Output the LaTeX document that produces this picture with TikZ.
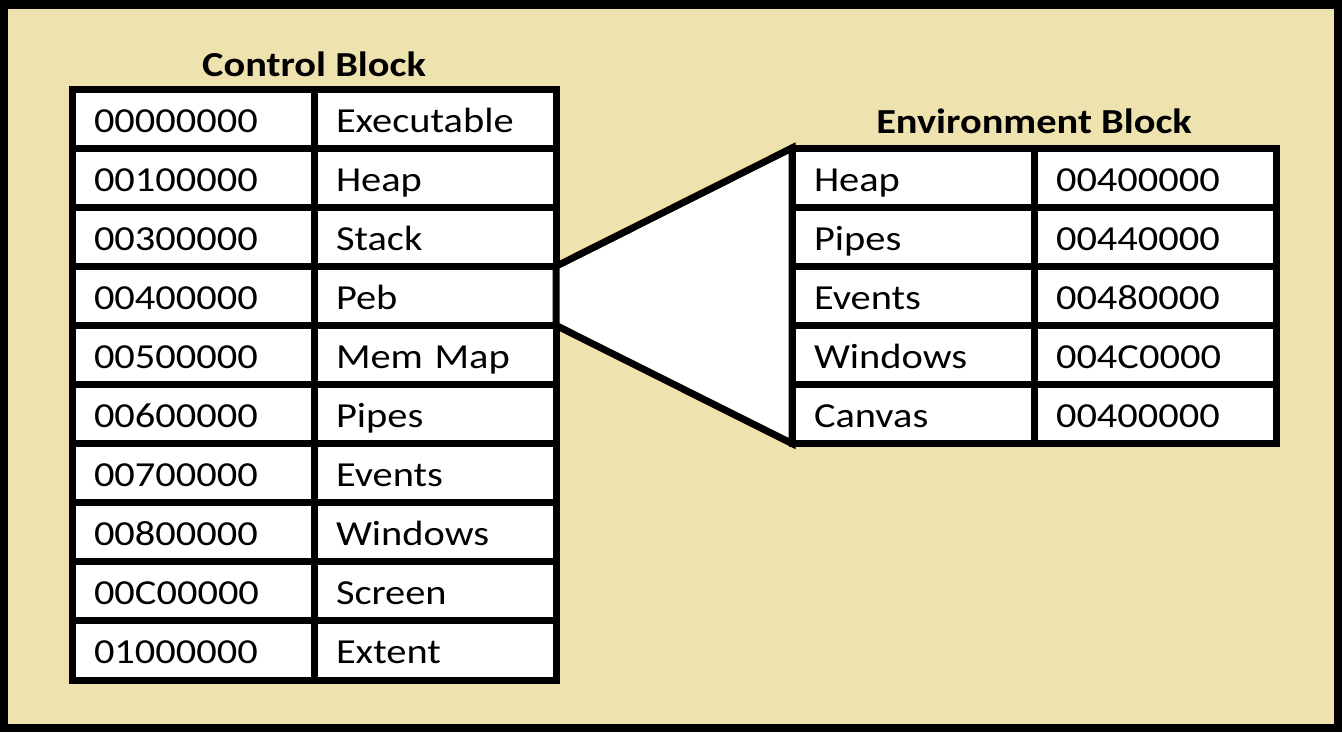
\documentclass[tikz,border=0pt]{standalone}
\usepackage{fontspec}
\setmainfont[FakeStretch=1.15]{Carlito}
\usetikzlibrary{positioning}
\definecolor{sand}{RGB}{238,226,175}

\begin{document}
\begin{tikzpicture}[
  every node/.style={font=\fontsize{10}{12}\selectfont},
  cell/.style={draw, fill=white, line width=0.07cm, outer sep=0pt,
    minimum height=0.591cm, inner ysep=0pt, inner xsep=0.22cm,
    text width=1.98cm, text height=0.33cm, text depth=0.06cm,
    align=left, anchor=north west},
  blocktitle/.style={font=\fontsize{10}{12}\selectfont\bfseries, anchor=base}
]
  \useasboundingbox (0, 0) rectangle (13.42, 7.32);
  \fill[sand] (0, 0) rectangle (13.42, 7.32);
  \draw[line width=0.085cm] (0.0425, 0.0425) rectangle (13.3775, 7.2775);

  % control block
  \foreach \i/\addr/\what in {1/00000000/Executable, 2/00100000/Heap,
      3/00300000/Stack, 4/00400000/Peb, 5/00500000/Mem Map,
      6/00600000/Pipes, 7/00700000/Events, 8/00800000/Windows,
      9/00C00000/Screen, 10/01000000/Extent} {
    \node[cell] (ca\i) at (0.72, {6.43 - (\i - 1) * 0.591}) {\addr};
    \node[cell, right=0pt of ca\i] (cb\i) {\what};
  }
  \node[blocktitle] (ctitle) at ([yshift=0.13cm]ca1.north east) {Control Block};

  % environment block
  \foreach \i/\what/\addr in {1/Heap/00400000, 2/Pipes/00440000,
      3/Events/00480000, 4/Windows/004C0000, 5/Canvas/00400000} {
    \node[cell] (ea\i) at (7.92, {5.84 - (\i - 1) * 0.591}) {\what};
    \node[cell, right=0pt of ea\i] (eb\i) {\addr};
  }
  \node[blocktitle] (etitle) at ([yshift=0.15cm]ea1.north east) {Environment Block};

  \draw[fill=white, line width=0.07cm]
    (cb4.north east) -- (ea1.north west) -- (ea5.south west) -- (cb4.south east) -- cycle;
\end{tikzpicture}
\end{document}
